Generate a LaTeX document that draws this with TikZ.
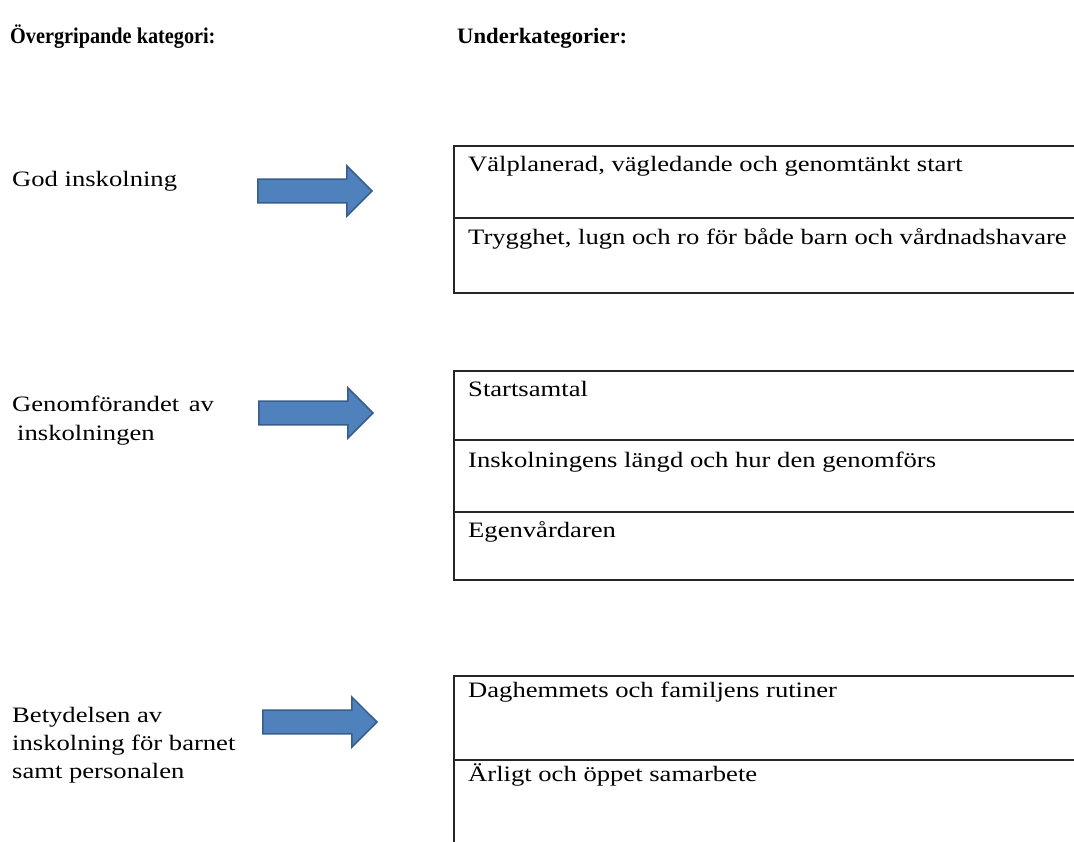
\documentclass[tikz,border=0pt]{standalone}
\usepackage{fontspec}
\setmainfont{Liberation Serif}
\newfontfamily\widefont[FakeStretch=1.21]{Liberation Serif}
\newfontfamily\hdrfontA[FakeStretch=0.90]{Liberation Serif}
\newfontfamily\hdrfontB[FakeStretch=1.03]{Liberation Serif}
\usetikzlibrary{shapes.arrows}
\definecolor{arrfill}{HTML}{4F81BD}
\definecolor{arrdraw}{HTML}{385D8A}
\begin{document}
\begin{tikzpicture}[x=1pt,y=-1pt,
  lbl/.style={anchor=base west,inner sep=0pt,font=\widefont\fontsize{22}{26}\selectfont},
  hdr/.style={anchor=base west,inner sep=0pt},
  cell/.style={anchor=base west,inner sep=0pt,font=\widefont\fontsize{22}{26}\selectfont},
  boxline/.style={draw=black!85,line width=1.4pt},
  bigarrow/.style={single arrow,fill=arrfill,draw=arrdraw,line width=1.5pt,anchor=tip,
     minimum height=114pt,minimum width=50pt,single arrow head extend=13pt,
     single arrow head indent=0pt,inner xsep=0pt,inner ysep=11pt}
]
\useasboundingbox (0,0) rectangle (1074,842);
\clip (0,0) rectangle (1074,842);
% headers
\node[hdr,font=\hdrfontA\fontsize{22.5}{26}\selectfont\bfseries] (h1) at (10,44) {Övergripande kategori:};
\node[hdr,font=\hdrfontB\fontsize{22}{26}\selectfont\bfseries] (h2) at (457,44) {Underkategorier:};
% left labels
\node[lbl] (c1) at (12,187) {God inskolning};
\node[lbl] (c2a) at (12,411) {Genomförandet\hspace{3pt} av};
\node[lbl] (c2b) at (17,440) {inskolningen};
\node[lbl] (c3a) at (12,722) {Betydelsen av};
\node[lbl] (c3b) at (12,750) {inskolning för barnet};
\node[lbl] (c3c) at (12,778) {samt personalen};
% arrows
\node[bigarrow] (a1) at (373,191) {};
\node[bigarrow] (a2) at (374,413) {};
\node[bigarrow] (a3) at (378,722) {};
% box 1
\draw[boxline] (454,146) rectangle (1090,293);
\draw[boxline] (454,218) -- (1090,218);
\node[cell] (s11) at (468,172) {Välplanerad, vägledande och genomtänkt start};
\node[cell] (s12) at (468,245) {Trygghet, lugn och ro för både barn och vårdnadshavare};
% box 2
\draw[boxline] (454,371) rectangle (1090,580);
\draw[boxline] (454,440) -- (1090,440);
\draw[boxline] (454,512) -- (1090,512);
\node[cell] (s21) at (468,396) {Startsamtal};
\node[cell] (s22) at (468,467) {Inskolningens längd och hur den genomförs};
\node[cell] (s23) at (468,537) {Egenvårdaren};
% box 3
\draw[boxline] (454,676) rectangle (1090,900);
\draw[boxline] (454,760) -- (1090,760);
\node[cell] (s31) at (468,697) {Daghemmets och familjens rutiner};
\node[cell] (s32) at (468,781) {Ärligt och öppet samarbete};
\end{tikzpicture}
\end{document}
